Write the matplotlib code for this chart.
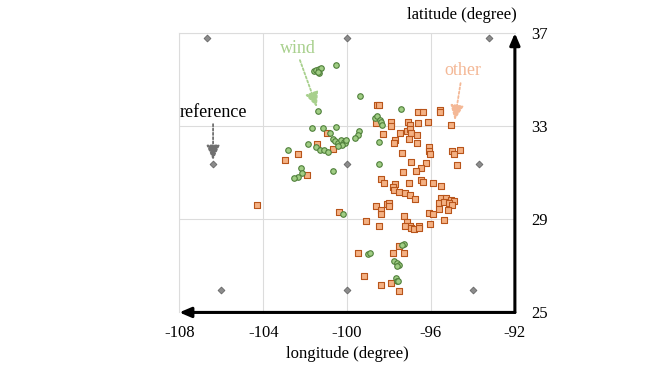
import matplotlib
matplotlib.use('Agg')
from matplotlib import pyplot as plt

plt.rcParams['font.family'] = ['Liberation Serif', 'DejaVu Serif']

# wind sites (lon, lat)
wind_lon = [-101.59, -101.46, -101.35, -101.25, -101.33, -101.41, -100.54, -99.38, -101.40,
            -101.65, -101.17, -100.54, -100.82, -100.67, -100.59, -100.43, -100.27, -100.16,
            -100.08, -100.24, -100.43, -100.03, -99.43, -99.50, -99.63, -101.48, -101.30,
            -101.11, -100.90, -101.85, -102.81, -102.22, -102.17, -102.33, -102.52, -100.67,
            -100.20, -97.44, -98.68, -98.56, -98.44, -98.36, -98.32, -98.48, -98.46,
            -97.30, -97.38, -99.00, -98.90, -97.76, -97.60, -97.54, -97.62, -97.68, -97.60, -97.55]
wind_lat = [35.37, 35.41, 35.45, 35.48, 35.27, 35.34, 35.65, 34.28, 33.65,
            32.93, 32.93, 32.96, 32.73, 32.47, 32.35, 32.26, 32.40, 32.32,
            32.26, 32.18, 32.15, 32.40, 32.79, 32.64, 32.51, 32.11, 31.97,
            31.97, 31.91, 32.22, 31.98, 31.19, 31.00, 30.82, 30.76, 31.08,
            29.22, 33.72, 33.34, 33.45, 33.26, 33.16, 33.04, 32.33, 31.37,
            27.95, 27.88, 27.49, 27.57, 27.21, 27.12, 27.05, 27.01, 26.48, 26.35, 26.35]

# other sites (lon, lat)
other_lon = [-100.95, -101.42, -100.67, -102.32, -102.95, -101.93, -104.29, -100.38,
             -98.59, -98.46, -98.62, -96.62, -96.36, -95.56, -95.57, -95.05, -97.92, -97.92,
             -97.10, -96.98, -96.62, -96.14, -98.30, -97.50, -97.14, -96.98, -96.93, -96.65,
             -97.73, -97.77, -97.06, -96.69, -96.10, -96.11, -96.04, -97.38, -94.98, -94.90,
             -94.61, -94.74, -96.97, -96.24, -96.48, -96.70, -97.33, -98.40, -98.26, -97.70,
             -97.05, -96.48, -96.38, -95.90, -95.51, -97.83, -97.74, -97.54, -97.25, -97.00,
             -96.74, -98.62, -98.36, -98.39, -98.12, -98.00, -97.99, -95.54, -95.27, -95.03,
             -94.92, -95.62, -95.38, -95.14, -95.00, -95.62, -95.19, -96.11, -95.90, -95.38,
             -96.03, -97.29, -97.13, -96.98, -97.24, -96.93, -96.80, -96.59, -96.55, -99.10,
             -98.49, -97.52, -97.29, -97.81, -99.50, -99.19, -97.89, -98.40, -97.54]
other_lat = [32.73, 32.23, 32.04, 31.82, 31.57, 30.89, 29.60, 29.31,
             33.90, 33.93, 33.12, 33.59, 33.61, 33.69, 33.59, 33.07, 33.16, 33.00,
             33.19, 33.06, 33.15, 33.16, 32.66, 32.71, 32.79, 32.87, 32.69, 32.64,
             32.42, 32.30, 32.44, 32.30, 32.12, 31.92, 31.80, 31.83, 31.95, 31.80,
             32.00, 31.35, 31.46, 31.40, 31.19, 31.07, 31.03, 30.75, 30.56, 30.53,
             30.54, 30.71, 30.62, 30.58, 30.42, 30.38, 30.25, 30.16, 30.15, 30.03,
             29.89, 29.59, 29.42, 29.25, 29.65, 29.72, 29.59, 29.92, 29.92, 29.82,
             29.77, 29.72, 29.74, 29.72, 29.63, 29.46, 29.42, 29.29, 29.25, 28.99,
             28.78, 29.13, 28.88, 28.72, 28.70, 28.64, 28.58, 28.70, 28.63, 28.91,
             28.70, 27.84, 27.57, 27.55, 27.55, 26.55, 26.28, 26.20, 25.92]

# reference grid points
ref_lon = [-106.7, -100.0, -93.25, -106.4, -100.0, -93.7, -106.0, -100.0, -94.0]
ref_lat = [36.77, 36.77, 36.77, 31.37, 31.37, 31.37, 25.98, 25.98, 25.98]

x_ticks = [-108, -104, -100, -96, -92]
y_ticks = [25, 29, 33, 37]


def dotted_arrow(ax, start, end, color):
    ax.annotate('', xy=end, xytext=start,
                arrowprops=dict(arrowstyle='-|>,head_length=0.9,head_width=0.4',
                                linestyle=(0, (1.2, 1.2)), color=color, lw=1.3,
                                shrinkA=0, shrinkB=0))


def main():
    fig = plt.figure(figsize=(6.58, 3.68), dpi=100)
    ax = fig.add_axes([0.2725, 0.151, 0.51, 0.759])

    ax.set_xlim(-108, -92)
    ax.set_ylim(25, 37)
    ax.set_xticks(x_ticks)
    ax.set_yticks(y_ticks)
    ax.set_xticklabels([str(t) for t in x_ticks])
    ax.yaxis.tick_right()
    ax.tick_params(axis='both', length=0, labelsize=12)
    ax.tick_params(axis='x', pad=9)
    ax.tick_params(axis='y', pad=12)
    ax.grid(True, color='#dcdcdc', linewidth=0.8)
    ax.set_axisbelow(True)

    for side in ['top', 'left']:
        ax.spines[side].set_color('#dcdcdc')
        ax.spines[side].set_linewidth(0.8)
    for side in ['bottom', 'right']:
        ax.spines[side].set_visible(False)

    # axis arrows
    ax.annotate('', xy=(0, 0), xytext=(1, 0), xycoords='axes fraction',
                arrowprops=dict(arrowstyle='-|>,head_length=0.7,head_width=0.3',
                                color='black', lw=2.2, shrinkA=0, shrinkB=0),
                annotation_clip=False)
    ax.annotate('', xy=(1, 1), xytext=(1, 0), xycoords='axes fraction',
                arrowprops=dict(arrowstyle='-|>,head_length=0.7,head_width=0.3',
                                color='black', lw=2.2, shrinkA=0, shrinkB=0),
                annotation_clip=False)

    ax.scatter(ref_lon, ref_lat, marker='D', s=12, color='#8c8c8c',
               edgecolors='#666666', linewidths=0.6, zorder=3)
    ax.scatter(other_lon, other_lat, marker='s', s=17, color='#f4b183',
               edgecolors='#b8541a', linewidths=0.8, zorder=3)
    ax.scatter(wind_lon, wind_lat, marker='o', s=16, color='#a0cd84',
               edgecolors='#4f7f3a', linewidths=0.8, zorder=4)

    # labels with dotted arrows
    ax.text(-102.35, 36.35, 'wind', ha='center', va='center', fontsize=13, color='#a8d08d')
    dotted_arrow(ax, (-102.25, 35.84), (-101.44, 33.82), '#a8d08d')
    ax.text(-94.49, 35.41, 'other', ha='center', va='center', fontsize=13, color='#f4b896')
    dotted_arrow(ax, (-94.59, 34.85), (-94.87, 33.26), '#f4b896')
    ax.text(-106.35, 33.6, 'reference', ha='center', va='center', fontsize=13, color='black')
    dotted_arrow(ax, (-106.39, 33.09), (-106.39, 31.54), '#707070')

    ax.set_xlabel('longitude (degree)', fontsize=12, labelpad=4)
    ax.text(1.005, 1.035, 'latitude (degree)', transform=ax.transAxes,
            ha='right', va='bottom', fontsize=12)

    fig.savefig('out.png', dpi=100)


if __name__ == "__main__":
    main()
